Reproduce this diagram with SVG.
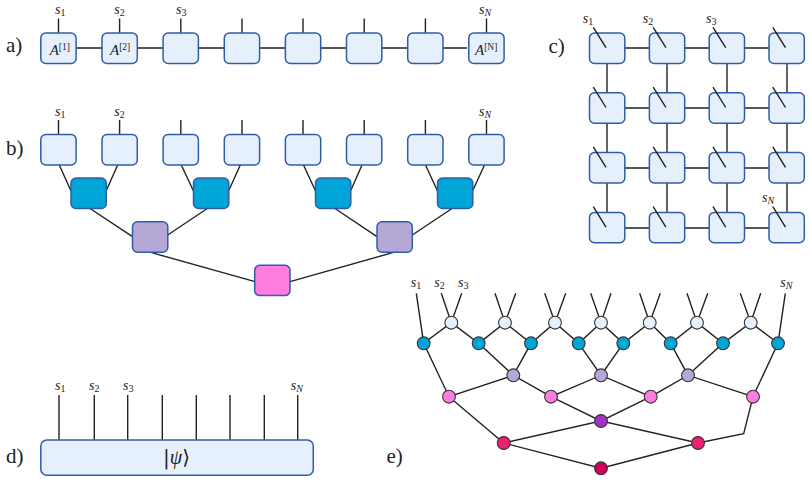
<svg xmlns="http://www.w3.org/2000/svg" width="811" height="482" viewBox="0 0 811 482" font-family="'Liberation Serif','Times New Roman',serif">
<defs>
<rect id="b" width="35.3" height="30.4" rx="5"/>
<circle id="n" r="6.4"/>
</defs>
<style>
text{fill:#222}
.m{font-size:14px;font-style:italic}
.m .d{font-size:10px;font-style:normal}
.m .N{font-size:10px;font-style:italic}
.h{font-size:21px}
.A{font-size:15px;font-style:italic}
.A .d{font-size:9.5px;font-style:normal}
.box use{stroke:#2f5da8;stroke-width:1.5}
.l{fill:#e6f0fd}.c{fill:#00a5d8}.v{fill:#b5a8d6}.p{fill:#ff7ce0}
.circ use{stroke:#333;stroke-width:1.1}
.w{fill:#e6f0fd}.u{fill:#a531c4}.r{fill:#ef1f72}.k{fill:#cf0057}
.e path,.t{fill:none;stroke:#222;stroke-width:1.4}
</style>
<rect width="811" height="482" fill="#fff"/>
<g id="panel-labels">
<text class="h" x="6" y="52">a)</text>
<text class="h" x="6" y="155">b)</text>
<text class="h" x="548.5" y="53">c)</text>
<text class="h" x="6" y="463">d)</text>
<text class="h" x="386.5" y="463">e)</text>
</g>
<g id="connectors" class="e">
<path d="M58.5 18.5V33M119.6 18.5V33M180.8 18.5V33M242 18.5V33M303 18.5V33M364.2 18.5V33M425.4 18.5V33M486.5 18.5V33M76 48H467"/>
<path d="M58.5 120V134.5M119.6 120V134.5M180.8 120V134.5M242 120V134.5M303 120V134.5M364.2 120V134.5M425.4 120V134.5M486.5 120V134.5"/>
<path d="M59.3 165L71 191M117.7 165L106.5 190M181.3 165L193.5 191M240.3 165L229 190M303.5 165L315.5 191M362 165L351 190M425.5 165L437.5 191M484.5 165L473 190"/>
<path d="M90 208.5L132.5 236.7M207.3 208.5L167.7 235M335 208.5L377 236.7M452 208.5L412.3 235M148.3 251.7L255 281.7M396 251.7L290 281.7"/>
<path d="M607 48H787M607 108H787M607 168H787M607 228H787M607 48V228M667 48V228M727 48V228M787 48V228"/>
<path d="M59 395V440M94.3 395V440M127.7 395V440M162.3 395V440M196.3 395V440M230 395V440M264.3 395V440M297.7 395V440"/>
<path d="M416.3 293.3L423.7 343.3M441.3 293.3L451.3 322.7L461.7 293.3M495 293.3L505 322.7L515.7 293.3M544.7 293.3L555 322.7L565.7 293.3M590.7 293.3L601 322.7L611 293.3M639.7 293.3L649.7 322.7L660.3 293.3M687 293.3L697 322.7L707.7 293.3M740.3 293.3L750.7 322.7L760.7 293.3M785.3 293.3L778 343.3"/>
<path d="M423.7 343.3L451.3 322.7L478.7 343.3L505 322.7L531 343.3L555 322.7L578.7 343.3L601 322.7L623.3 343.3L649.7 322.7L670.7 343.3L697 322.7L723 343.3L750.7 322.7L778 343.3"/>
<path d="M423.7 343.3L449 396.7L513.3 375.3L478.7 343.3M531 343.3L513.3 375.3L551 396.7L601 375.3L578.7 343.3M623.3 343.3L601 375.3L650.7 396.7L688 375.3L670.7 343.3M723 343.3L688 375.3L753 396.7L778 343.3"/>
<path d="M449 396.7L503.7 443L601 421L551 396.7M650.7 396.7L601 421L698 443L743.7 433.7L753 396.7M503.7 443L601 468.3L698 443"/>
</g>
<g id="a-nodes" class="box">
<g id="a1"><use href="#b" class="l" x="40.8" y="33"/><text class="A" x="49.7" y="54.5">A<tspan class="d" dy="-4.5">[1]</tspan></text></g>
<g id="a2"><use href="#b" class="l" x="102" y="33"/><text class="A" x="110" y="54.5">A<tspan class="d" dy="-4.5">[2]</tspan></text></g>
<g id="a3"><use href="#b" class="l" x="163.1" y="33"/></g>
<g id="a4"><use href="#b" class="l" x="224.3" y="33"/></g>
<g id="a5"><use href="#b" class="l" x="285.4" y="33"/></g>
<g id="a6"><use href="#b" class="l" x="346.5" y="33"/></g>
<g id="a7"><use href="#b" class="l" x="407.7" y="33"/></g>
<g id="a8"><use href="#b" class="l" x="468.8" y="33"/><text class="A" x="475" y="54.5">A<tspan class="d" dy="-4.5">[N]</tspan></text></g>
</g>
<g id="a-labels">
<text class="m" x="55" y="13.5">s<tspan class="d" dy="2">1</tspan></text>
<text class="m" x="114.3" y="13.5">s<tspan class="d" dy="2">2</tspan></text>
<text class="m" x="176" y="13.5">s<tspan class="d" dy="2">3</tspan></text>
<text class="m" x="479" y="13.5">s<tspan class="N" dy="2">N</tspan></text>
</g>
<g id="b-nodes" class="box">
<g id="b1"><use href="#b" class="l" x="40.8" y="134.5"/></g>
<g id="b2"><use href="#b" class="l" x="102" y="134.5"/></g>
<g id="b3"><use href="#b" class="l" x="163.1" y="134.5"/></g>
<g id="b4"><use href="#b" class="l" x="224.3" y="134.5"/></g>
<g id="b5"><use href="#b" class="l" x="285.4" y="134.5"/></g>
<g id="b6"><use href="#b" class="l" x="346.5" y="134.5"/></g>
<g id="b7"><use href="#b" class="l" x="407.7" y="134.5"/></g>
<g id="b8"><use href="#b" class="l" x="468.8" y="134.5"/></g>
<g id="b9"><use href="#b" class="c" x="71" y="178"/></g>
<g id="b10"><use href="#b" class="c" x="193.5" y="178"/></g>
<g id="b11"><use href="#b" class="c" x="315.5" y="178"/></g>
<g id="b12"><use href="#b" class="c" x="437.5" y="178"/></g>
<g id="b13"><use href="#b" class="v" x="132.5" y="221.8"/></g>
<g id="b14"><use href="#b" class="v" x="377" y="221.8"/></g>
<g id="b15"><use href="#b" class="p" x="254.7" y="265.2"/></g>
</g>
<g id="b-labels">
<text class="m" x="55" y="116">s<tspan class="d" dy="2">1</tspan></text>
<text class="m" x="114.3" y="116">s<tspan class="d" dy="2">2</tspan></text>
<text class="m" x="479" y="116">s<tspan class="N" dy="2">N</tspan></text>
</g>
<g id="c-nodes" class="box">
<g id="c11"><use href="#b" class="l" x="589.5" y="33"/><path class="t" d="M593.3 27.3L606 47.7"/></g>
<g id="c12"><use href="#b" class="l" x="649.4" y="33"/><path class="t" d="M653.2 27.3L665.9 47.7"/></g>
<g id="c13"><use href="#b" class="l" x="709.2" y="33"/><path class="t" d="M713 27.3L725.7 47.7"/></g>
<g id="c14"><use href="#b" class="l" x="769" y="33"/><path class="t" d="M772.8 27.3L785.5 47.7"/></g>
<g id="c21"><use href="#b" class="l" x="589.5" y="92.8"/><path class="t" d="M593.3 87.1L606 107.5"/></g>
<g id="c22"><use href="#b" class="l" x="649.4" y="92.8"/><path class="t" d="M653.2 87.1L665.9 107.5"/></g>
<g id="c23"><use href="#b" class="l" x="709.2" y="92.8"/><path class="t" d="M713 87.1L725.7 107.5"/></g>
<g id="c24"><use href="#b" class="l" x="769" y="92.8"/><path class="t" d="M772.8 87.1L785.5 107.5"/></g>
<g id="c31"><use href="#b" class="l" x="589.5" y="152.6"/><path class="t" d="M593.3 146.9L606 167.3"/></g>
<g id="c32"><use href="#b" class="l" x="649.4" y="152.6"/><path class="t" d="M653.2 146.9L665.9 167.3"/></g>
<g id="c33"><use href="#b" class="l" x="709.2" y="152.6"/><path class="t" d="M713 146.9L725.7 167.3"/></g>
<g id="c34"><use href="#b" class="l" x="769" y="152.6"/><path class="t" d="M772.8 146.9L785.5 167.3"/></g>
<g id="c41"><use href="#b" class="l" x="589.5" y="212.4"/><path class="t" d="M593.3 206.7L606 227.1"/></g>
<g id="c42"><use href="#b" class="l" x="649.4" y="212.4"/><path class="t" d="M653.2 206.7L665.9 227.1"/></g>
<g id="c43"><use href="#b" class="l" x="709.2" y="212.4"/><path class="t" d="M713 206.7L725.7 227.1"/></g>
<g id="c44"><use href="#b" class="l" x="769" y="212.4"/><path class="t" d="M772.8 206.7L785.5 227.1"/></g>
</g>
<g id="c-labels">
<text class="m" x="582.7" y="22.7">s<tspan class="d" dy="2">1</tspan></text>
<text class="m" x="642.7" y="22.7">s<tspan class="d" dy="2">2</tspan></text>
<text class="m" x="706" y="22.7">s<tspan class="d" dy="2">3</tspan></text>
<text class="m" x="762" y="201.7">s<tspan class="N" dy="2">N</tspan></text>
</g>
<g id="d-node">
<rect x="40.8" y="440" width="272.5" height="35.2" rx="6" fill="#e6f0fd" stroke="#2f5da8" stroke-width="1.5"/>
<text x="163" y="464" font-size="20" font-family="'DejaVu Serif',serif">|<tspan font-style="italic" font-family="'Liberation Serif',serif">ψ</tspan>⟩</text>
</g>
<g id="d-labels">
<text class="m" x="55" y="390">s<tspan class="d" dy="2">1</tspan></text>
<text class="m" x="89" y="390">s<tspan class="d" dy="2">2</tspan></text>
<text class="m" x="123" y="390">s<tspan class="d" dy="2">3</tspan></text>
<text class="m" x="290.7" y="390">s<tspan class="N" dy="2">N</tspan></text>
</g>
<g id="e-nodes" class="circ">
<g id="e-w1"><use href="#n" class="w" x="451.3" y="322.7"/></g>
<g id="e-w2"><use href="#n" class="w" x="505" y="322.7"/></g>
<g id="e-w3"><use href="#n" class="w" x="555" y="322.7"/></g>
<g id="e-w4"><use href="#n" class="w" x="601" y="322.7"/></g>
<g id="e-w5"><use href="#n" class="w" x="649.7" y="322.7"/></g>
<g id="e-w6"><use href="#n" class="w" x="697" y="322.7"/></g>
<g id="e-w7"><use href="#n" class="w" x="750.7" y="322.7"/></g>
<g id="e-c1"><use href="#n" class="c" x="423.7" y="343.3"/></g>
<g id="e-c2"><use href="#n" class="c" x="478.7" y="343.3"/></g>
<g id="e-c3"><use href="#n" class="c" x="531" y="343.3"/></g>
<g id="e-c4"><use href="#n" class="c" x="578.7" y="343.3"/></g>
<g id="e-c5"><use href="#n" class="c" x="623.3" y="343.3"/></g>
<g id="e-c6"><use href="#n" class="c" x="670.7" y="343.3"/></g>
<g id="e-c7"><use href="#n" class="c" x="723" y="343.3"/></g>
<g id="e-c8"><use href="#n" class="c" x="778" y="343.3"/></g>
<g id="e-v1"><use href="#n" class="v" x="513.3" y="375.3"/></g>
<g id="e-v2"><use href="#n" class="v" x="601" y="375.3"/></g>
<g id="e-v3"><use href="#n" class="v" x="688" y="375.3"/></g>
<g id="e-p1"><use href="#n" class="p" x="449" y="396.7"/></g>
<g id="e-p2"><use href="#n" class="p" x="551" y="396.7"/></g>
<g id="e-p3"><use href="#n" class="p" x="650.7" y="396.7"/></g>
<g id="e-p4"><use href="#n" class="p" x="753" y="396.7"/></g>
<g id="e-u"><use href="#n" class="u" x="601" y="421"/></g>
<g id="e-r1"><use href="#n" class="r" x="503.7" y="443"/></g>
<g id="e-r2"><use href="#n" class="r" x="698" y="443"/></g>
<g id="e-k"><use href="#n" class="k" x="601" y="468.3"/></g>
</g>
<g id="e-labels">
<text class="m" x="410.7" y="287.3">s<tspan class="d" dy="2">1</tspan></text>
<text class="m" x="434.3" y="287.3">s<tspan class="d" dy="2">2</tspan></text>
<text class="m" x="458" y="287.3">s<tspan class="d" dy="2">3</tspan></text>
<text class="m" x="780.3" y="287.3">s<tspan class="N" dy="2">N</tspan></text>
</g>
</svg>
